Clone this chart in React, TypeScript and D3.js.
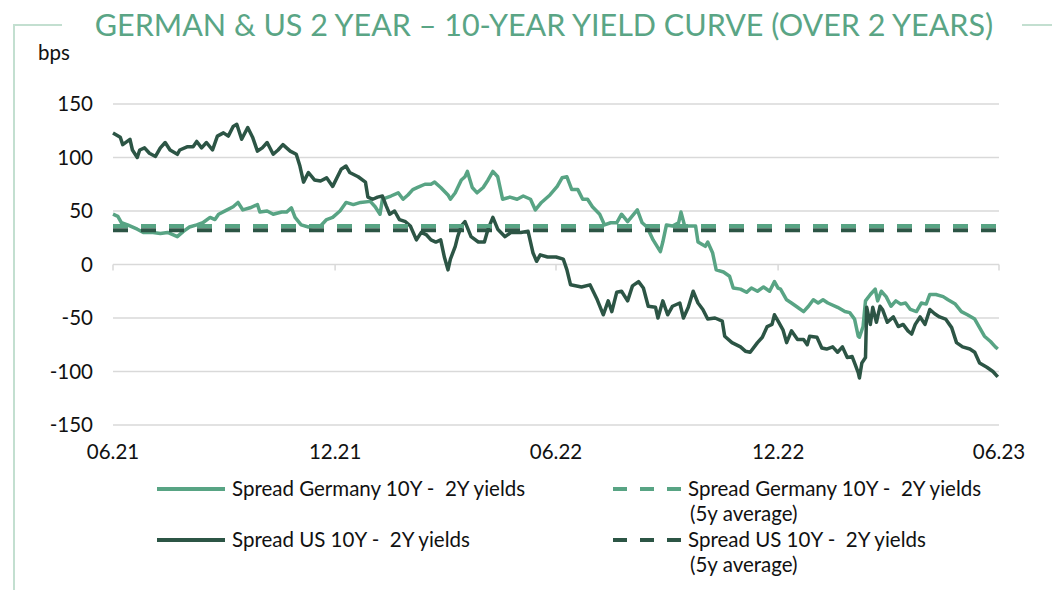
import React, { useEffect, useRef } from 'react';
import * as d3 from 'd3';

type Point = [string, number];

// Spread Germany 10Y - 2Y, bps
const germanySpread: Point[] = [
  ['2021-06-01', 47], ['2021-06-05', 45], ['2021-06-08', 39], ['2021-06-13', 37], ['2021-06-21', 33],
  ['2021-06-26', 30], ['2021-07-04', 30], ['2021-07-10', 29], ['2021-07-16', 30], ['2021-07-24', 26],
  ['2021-07-29', 31], ['2021-08-03', 35], ['2021-08-09', 37], ['2021-08-14', 39], ['2021-08-20', 44],
  ['2021-08-24', 42], ['2021-08-27', 47], ['2021-09-03', 51], ['2021-09-08', 54], ['2021-09-12', 58],
  ['2021-09-16', 51], ['2021-09-22', 53], ['2021-09-28', 56], ['2021-09-30', 49], ['2021-10-06', 50],
  ['2021-10-11', 47], ['2021-10-18', 49], ['2021-10-22', 49], ['2021-10-26', 53], ['2021-10-29', 44],
  ['2021-11-03', 37], ['2021-11-09', 35], ['2021-11-14', 36], ['2021-11-19', 36], ['2021-11-24', 42],
  ['2021-11-29', 44], ['2021-12-05', 50], ['2021-12-10', 58], ['2021-12-16', 56], ['2021-12-22', 58],
  ['2021-12-30', 59], ['2022-01-03', 54], ['2022-01-07', 47], ['2022-01-09', 61], ['2022-01-16', 64],
  ['2022-01-22', 67], ['2022-01-26', 61], ['2022-01-30', 65], ['2022-02-03', 70], ['2022-02-07', 72],
  ['2022-02-13', 75], ['2022-02-18', 75], ['2022-02-21', 77], ['2022-02-26', 72], ['2022-03-04', 65],
  ['2022-03-06', 61], ['2022-03-10', 67], ['2022-03-15', 79], ['2022-03-18', 82], ['2022-03-20', 87],
  ['2022-03-24', 72], ['2022-03-28', 67], ['2022-04-02', 72], ['2022-04-06', 79], ['2022-04-10', 87],
  ['2022-04-14', 82], ['2022-04-18', 61], ['2022-04-24', 63], ['2022-04-30', 61], ['2022-05-05', 64],
  ['2022-05-11', 61], ['2022-05-15', 51], ['2022-05-20', 58], ['2022-05-27', 65], ['2022-06-02', 73],
  ['2022-06-06', 81], ['2022-06-10', 82], ['2022-06-14', 70], ['2022-06-19', 70], ['2022-06-23', 61],
  ['2022-06-27', 61], ['2022-07-01', 54], ['2022-07-07', 47], ['2022-07-11', 37], ['2022-07-16', 39],
  ['2022-07-21', 39], ['2022-07-25', 47], ['2022-07-30', 40], ['2022-08-07', 51], ['2022-08-11', 39],
  ['2022-08-15', 35], ['2022-08-20', 23], ['2022-08-26', 12], ['2022-08-28', 21], ['2022-08-31', 37],
  ['2022-09-05', 36], ['2022-09-10', 39], ['2022-09-12', 49], ['2022-09-15', 36], ['2022-09-19', 36],
  ['2022-09-24', 36], ['2022-09-26', 21], ['2022-10-02', 17], ['2022-10-04', 21], ['2022-10-08', 11],
  ['2022-10-11', -5], ['2022-10-17', -7], ['2022-10-22', -11], ['2022-10-25', -22], ['2022-10-31', -23],
  ['2022-11-05', -26], ['2022-11-09', -22], ['2022-11-14', -25], ['2022-11-19', -21], ['2022-11-24', -25],
  ['2022-11-28', -16], ['2022-12-01', -22], ['2022-12-03', -23], ['2022-12-08', -33], ['2022-12-12', -36],
  ['2022-12-17', -40], ['2022-12-22', -44], ['2022-12-26', -39], ['2022-12-30', -33], ['2023-01-03', -36],
  ['2023-01-07', -33], ['2023-01-11', -36], ['2023-01-19', -40], ['2023-01-25', -44], ['2023-01-29', -45],
  ['2023-02-02', -51], ['2023-02-05', -67], ['2023-02-06', -68], ['2023-02-09', -58], ['2023-02-11', -34],
  ['2023-02-15', -28], ['2023-02-19', -23], ['2023-02-21', -34], ['2023-02-24', -25], ['2023-02-28', -30],
  ['2023-03-04', -39], ['2023-03-08', -34], ['2023-03-12', -37], ['2023-03-16', -36], ['2023-03-20', -42],
  ['2023-03-25', -44], ['2023-03-29', -36], ['2023-04-02', -37], ['2023-04-05', -28], ['2023-04-10', -28],
  ['2023-04-16', -30], ['2023-04-20', -33], ['2023-04-26', -37], ['2023-05-01', -44], ['2023-05-06', -47],
  ['2023-05-12', -51], ['2023-05-16', -59], ['2023-05-20', -67], ['2023-05-25', -72], ['2023-05-29', -77],
  ['2023-05-31', -79],
];

// Spread US 10Y - 2Y, bps
const usSpread: Point[] = [
  ['2021-06-01', 123], ['2021-06-07', 119], ['2021-06-09', 112], ['2021-06-15', 117], ['2021-06-17', 107],
  ['2021-06-21', 100], ['2021-06-23', 107], ['2021-06-27', 109], ['2021-07-01', 104], ['2021-07-06', 101],
  ['2021-07-10', 109], ['2021-07-14', 114], ['2021-07-18', 107], ['2021-07-24', 103], ['2021-07-26', 107],
  ['2021-08-01', 110], ['2021-08-06', 110], ['2021-08-09', 115], ['2021-08-13', 109], ['2021-08-17', 114],
  ['2021-08-22', 107], ['2021-08-26', 120], ['2021-08-31', 123], ['2021-09-04', 120], ['2021-09-08', 129],
  ['2021-09-11', 131], ['2021-09-15', 117], ['2021-09-20', 128], ['2021-09-24', 119], ['2021-09-28', 106],
  ['2021-10-02', 109], ['2021-10-06', 114], ['2021-10-11', 103], ['2021-10-15', 107], ['2021-10-19', 112],
  ['2021-10-25', 106], ['2021-10-30', 103], ['2021-11-02', 92], ['2021-11-05', 77], ['2021-11-09', 86],
  ['2021-11-14', 79], ['2021-11-19', 78], ['2021-11-24', 81], ['2021-11-29', 73], ['2021-12-06', 89],
  ['2021-12-10', 92], ['2021-12-13', 86], ['2021-12-20', 82], ['2021-12-26', 77], ['2021-12-28', 63],
  ['2022-01-01', 61], ['2022-01-05', 63], ['2022-01-09', 64], ['2022-01-12', 55], ['2022-01-15', 47],
  ['2022-01-19', 50], ['2022-01-23', 42], ['2022-01-28', 40], ['2022-02-01', 36], ['2022-02-06', 23],
  ['2022-02-10', 30], ['2022-02-14', 28], ['2022-02-18', 23], ['2022-02-22', 21], ['2022-02-26', 23],
  ['2022-03-01', 7], ['2022-03-04', -5], ['2022-03-06', 5], ['2022-03-10', 17], ['2022-03-12', 26],
  ['2022-03-15', 36], ['2022-03-18', 40], ['2022-03-23', 26], ['2022-03-29', 21], ['2022-04-03', 21],
  ['2022-04-06', 33], ['2022-04-10', 44], ['2022-04-14', 33], ['2022-04-20', 26], ['2022-04-25', 30],
  ['2022-05-03', 30], ['2022-05-09', 31], ['2022-05-13', 11], ['2022-05-16', 3], ['2022-05-19', 9],
  ['2022-05-25', 7], ['2022-06-01', 7], ['2022-06-07', 5], ['2022-06-10', -5], ['2022-06-13', -19],
  ['2022-06-22', -21], ['2022-06-29', -19], ['2022-07-05', -33], ['2022-07-10', -47], ['2022-07-14', -34],
  ['2022-07-17', -44], ['2022-07-21', -26], ['2022-07-25', -25], ['2022-07-30', -34], ['2022-08-03', -20],
  ['2022-08-08', -16], ['2022-08-12', -22], ['2022-08-16', -39], ['2022-08-22', -40], ['2022-08-24', -50],
  ['2022-08-28', -34], ['2022-09-01', -47], ['2022-09-05', -39], ['2022-09-11', -36], ['2022-09-14', -50],
  ['2022-09-18', -40], ['2022-09-22', -25], ['2022-09-26', -36], ['2022-09-30', -42], ['2022-10-04', -51],
  ['2022-10-10', -50], ['2022-10-16', -53], ['2022-10-18', -67], ['2022-10-24', -73], ['2022-10-31', -77],
  ['2022-11-04', -81], ['2022-11-08', -82], ['2022-11-14', -73], ['2022-11-18', -68], ['2022-11-22', -58],
  ['2022-11-26', -56], ['2022-11-28', -47], ['2022-12-01', -53], ['2022-12-05', -61], ['2022-12-08', -73],
  ['2022-12-12', -62], ['2022-12-17', -70], ['2022-12-22', -70], ['2022-12-25', -75], ['2022-12-27', -67],
  ['2023-01-02', -68], ['2023-01-06', -78], ['2023-01-10', -79], ['2023-01-15', -77], ['2023-01-19', -82],
  ['2023-01-23', -77], ['2023-01-27', -87], ['2023-01-31', -86], ['2023-02-02', -92], ['2023-02-05', -101],
  ['2023-02-06', -106], ['2023-02-08', -92], ['2023-02-11', -87], ['2023-02-12', -40], ['2023-02-15', -56],
  ['2023-02-17', -40], ['2023-02-20', -54], ['2023-02-23', -39], ['2023-02-25', -42], ['2023-03-01', -54],
  ['2023-03-06', -49], ['2023-03-10', -58], ['2023-03-14', -56], ['2023-03-18', -62], ['2023-03-21', -65],
  ['2023-03-24', -56], ['2023-03-28', -49], ['2023-04-01', -56], ['2023-04-05', -42], ['2023-04-09', -46],
  ['2023-04-13', -49], ['2023-04-18', -51], ['2023-04-23', -59], ['2023-04-27', -73], ['2023-05-02', -77],
  ['2023-05-08', -79], ['2023-05-12', -82], ['2023-05-16', -92], ['2023-05-22', -96], ['2023-05-27', -100],
  ['2023-05-31', -105],
];

// 5y averages, bps
const germanyAvg = 36;
const usAvg = 32;

const xTicks = ['2021-06-01', '2021-12-01', '2022-06-01', '2022-12-01', '2023-06-01'];
const yTicks = [-150, -100, -50, 0, 50, 100, 150];

const title = 'GERMAN & US 2 YEAR \u2013 10-YEAR YIELD CURVE (OVER 2 YEARS)';
const legendItems = [
  { label: 'Spread Germany 10Y -  2Y yields', sub: '', color: '#58a484', dashed: false },
  { label: 'Spread Germany 10Y -  2Y yields', sub: '(5y average)', color: '#58a484', dashed: true },
  { label: 'Spread US 10Y -  2Y yields', sub: '', color: '#2c5545', dashed: false },
  { label: 'Spread US 10Y -  2Y yields', sub: '(5y average)', color: '#2c5545', dashed: true },
];

const W = 1052;
const H = 590;
const font = 'Lato, "Noto Sans", sans-serif';
const lightGreen = '#58a484';
const darkGreen = '#2c5545';
const frameColor = '#c3dfd0';
const gridColor = '#d9d9d9';
const fs = 20.5;

const parse = d3.timeParse('%Y-%m-%d');

const App: React.FC = () => {
  const ref = useRef<SVGSVGElement>(null);

  useEffect(() => {
    if (!ref.current) return;
    const svg = d3.select(ref.current);
    svg.selectAll('*').remove();

    const x = d3
      .scaleTime()
      .domain([parse('2021-06-01') as Date, parse('2023-06-01') as Date])
      .range([113, 999]);
    const y = d3.scaleLinear().domain([-150, 150]).range([425, 104]);

    // frame
    svg.append('path')
      .attr('d', `M14,${H} L14,25 L62,25 M1022,25 L${W},25`)
      .attr('fill', 'none')
      .attr('stroke', frameColor)
      .attr('stroke-width', 2);

    svg.append('text')
      .attr('x', 544)
      .attr('y', 36)
      .attr('text-anchor', 'middle')
      .attr('font-family', font)
      .attr('font-weight', 400)
      .attr('font-size', 30.5)
      .attr('fill', '#5aa585')
      .text(title);

    svg.append('text')
      .attr('x', 38)
      .attr('y', 60)
      .attr('font-family', font)
      .attr('font-size', fs)
      .attr('fill', '#111')
      .text('bps');

    // grid
    const grid = svg.append('g');
    grid.selectAll('line')
      .data(yTicks)
      .enter()
      .append('line')
      .attr('x1', x.range()[0])
      .attr('x2', x.range()[1])
      .attr('y1', d => y(d))
      .attr('y2', d => y(d))
      .attr('stroke', gridColor)
      .attr('stroke-width', 1.5);

    svg.append('g')
      .selectAll('text')
      .data(yTicks)
      .enter()
      .append('text')
      .attr('x', 93)
      .attr('y', d => y(d))
      .attr('dy', '0.35em')
      .attr('text-anchor', 'end')
      .attr('font-family', font)
      .attr('font-size', fs)
      .attr('fill', '#111')
      .text(d => String(d));

    // x axis on zero line
    const fmt = d3.timeFormat('%m.%y');
    const xt = svg.append('g');
    xt.selectAll('line')
      .data(xTicks)
      .enter()
      .append('line')
      .attr('x1', d => x(parse(d) as Date))
      .attr('x2', d => x(parse(d) as Date))
      .attr('y1', y(0))
      .attr('y2', y(0) + 6)
      .attr('stroke', gridColor)
      .attr('stroke-width', 1.5);
    xt.selectAll('text')
      .data(xTicks)
      .enter()
      .append('text')
      .attr('x', d => x(parse(d) as Date))
      .attr('y', 452)
      .attr('dy', '0.35em')
      .attr('text-anchor', 'middle')
      .attr('font-family', font)
      .attr('font-size', fs)
      .attr('fill', '#111')
      .text(d => fmt(parse(d) as Date));

    const line = d3
      .line<Point>()
      .x(d => x(parse(d[0]) as Date))
      .y(d => y(d[1]));

    svg.append('path')
      .datum(germanySpread)
      .attr('fill', 'none')
      .attr('stroke', lightGreen)
      .attr('stroke-width', 3.5)
      .attr('stroke-linejoin', 'round')
      .attr('d', line);

    svg.append('path')
      .datum(usSpread)
      .attr('fill', 'none')
      .attr('stroke', darkGreen)
      .attr('stroke-width', 3.5)
      .attr('stroke-linejoin', 'round')
      .attr('d', line);

    const avgs: [number, string][] = [[germanyAvg, lightGreen], [usAvg, darkGreen]];
    svg.append('g')
      .selectAll('line')
      .data(avgs)
      .enter()
      .append('line')
      .attr('x1', x.range()[0])
      .attr('x2', x.range()[1])
      .attr('y1', d => y(d[0]))
      .attr('y2', d => y(d[0]))
      .attr('stroke', d => d[1])
      .attr('stroke-width', 4)
      .attr('stroke-dasharray', '15,13');

    // legend
    const lg = svg.append('g');
    legendItems.forEach((item, i) => {
      const col = i % 2;
      const row = Math.floor(i / 2);
      const lx = col === 0 ? 157 : 613;
      const ly = 489 + row * 51;
      lg.append('line')
        .attr('x1', lx)
        .attr('x2', lx + 68)
        .attr('y1', ly)
        .attr('y2', ly)
        .attr('stroke', item.color)
        .attr('stroke-width', 4)
        .attr('stroke-dasharray', item.dashed ? '14,13' : null);
      lg.append('text')
        .attr('x', lx + 75)
        .attr('y', ly)
        .attr('dy', '0.35em')
        .attr('font-family', font)
        .attr('font-size', fs)
        .attr('fill', '#111')
        .style('white-space', 'pre')
        .text(item.label);
      if (item.sub) {
        lg.append('text')
          .attr('x', lx + 77)
          .attr('y', ly + 25)
          .attr('dy', '0.35em')
          .attr('font-family', font)
          .attr('font-size', fs)
          .attr('fill', '#111')
          .text(item.sub);
      }
    });
  }, []);

  return (
    <svg
      ref={ref}
      width={W}
      height={H}
      style={{ position: 'absolute', left: 0, top: 0, background: '#fff' }}
    />
  );
};

export default App;
